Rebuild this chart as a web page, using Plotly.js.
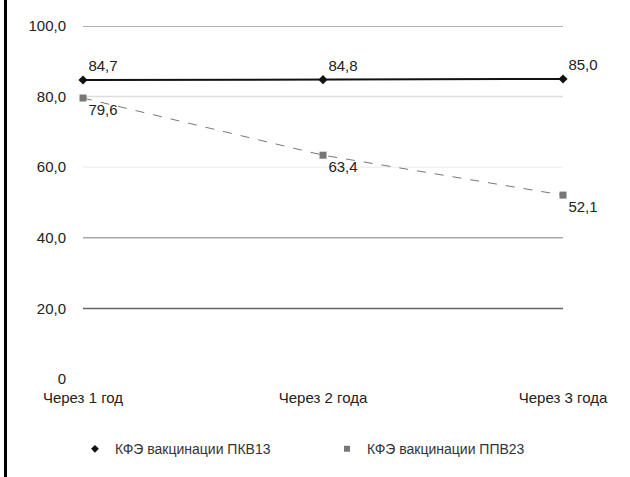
<!DOCTYPE html>
<html><head><meta charset="utf-8">
<script src="https://cdn.plot.ly/plotly-3.0.1.min.js"></script>
<style>
html,body{margin:0;padding:0;background:#fff;}
#wrap{position:relative;width:630px;height:477px;}
#bar{position:absolute;left:4px;top:0;width:3px;height:477px;background:#000;z-index:5;}
#chart{position:absolute;left:0;top:0;width:630px;height:477px;}
</style></head>
<body><div id="wrap"><div id="bar"></div><div id="chart"></div></div>
<script>
const categories = ['Через 1 год', 'Через 2 года', 'Через 3 года'];
const pkv13 = [84.7, 84.8, 85.0];
const ppv23 = [79.6, 63.4, 52.1];
const seriesNames = ['КФЭ вакцинации ПКВ13', 'КФЭ вакцинации ППВ23'];
const yTickVals = [0, 20, 40, 60, 80, 100];
const yTickText = ['0', '20,0', '40,0', '60,0', '80,0', '100,0'];
const gridVals = [20, 40, 60, 80, 100];
const gridColors = ['#666', '#aaa', '#f2f2f2', '#ddd', '#999'];

const font = 'Liberation Sans, Arial, sans-serif';
const traces = [
  {x: categories, y: pkv13, name: seriesNames[0], type: 'scatter', mode: 'lines+markers+text', showlegend: false,
   line: {color: '#111', width: 2}, marker: {symbol: 'diamond', size: 7, color: '#111'},
   texttemplate: '%{y:.1f}', textposition: 'top right', textfont: {size: 15, color: '#222', family: font},
   cliponaxis: false},
  {x: categories, y: ppv23, name: seriesNames[1], type: 'scatter', mode: 'lines+markers+text', showlegend: false,
   line: {color: '#777', width: 1, dash: 'dash'}, marker: {symbol: 'square', size: 7, color: '#777'},
   texttemplate: '%{y:.1f}', textposition: 'bottom right', textfont: {size: 15, color: '#222', family: font},
   cliponaxis: false},
  {x: [null], y: [null], name: seriesNames[0], type: 'scatter', mode: 'markers',
   marker: {symbol: 'diamond', size: 6, color: '#111'}},
  {x: [null], y: [null], name: seriesNames[1], type: 'scatter', mode: 'markers',
   marker: {symbol: 'square', size: 6, color: '#777'}}
];
const shapes = gridVals.map((v, i) => ({type: 'line', xref: 'paper', yref: 'y', x0: 0, x1: 1, y0: v, y1: v,
  line: {color: gridColors[i], width: 1.5}, layer: 'below'}));
const layout = {
  width: 630, height: 477,
  margin: {l: 83, r: 67, t: 26, b: 95},
  separators: ', ',
  paper_bgcolor: '#fff', plot_bgcolor: '#fff',
  font: {family: font, size: 15, color: '#222'},
  showlegend: true,
  legend: {orientation: 'h', x: -0.0167, xanchor: 'left', y: -0.199, yanchor: 'middle',
    entrywidth: 207, entrywidthmode: 'pixels', font: {size: 14, color: '#333'}},
  xaxis: {type: 'category', range: [0, 2], showgrid: false, zeroline: false, showline: false,
    ticks: '', ticklabelstandoff: 8, tickfont: {size: 15}},
  yaxis: {range: [0, 100], tickvals: yTickVals, ticktext: yTickText, showgrid: false, zeroline: false,
    showline: false, ticks: '', ticklabelstandoff: 16, tickfont: {size: 15}},
  shapes: shapes
};
Plotly.newPlot('chart', traces, layout, {displayModeBar: false, staticPlot: true});
</script></body></html>
